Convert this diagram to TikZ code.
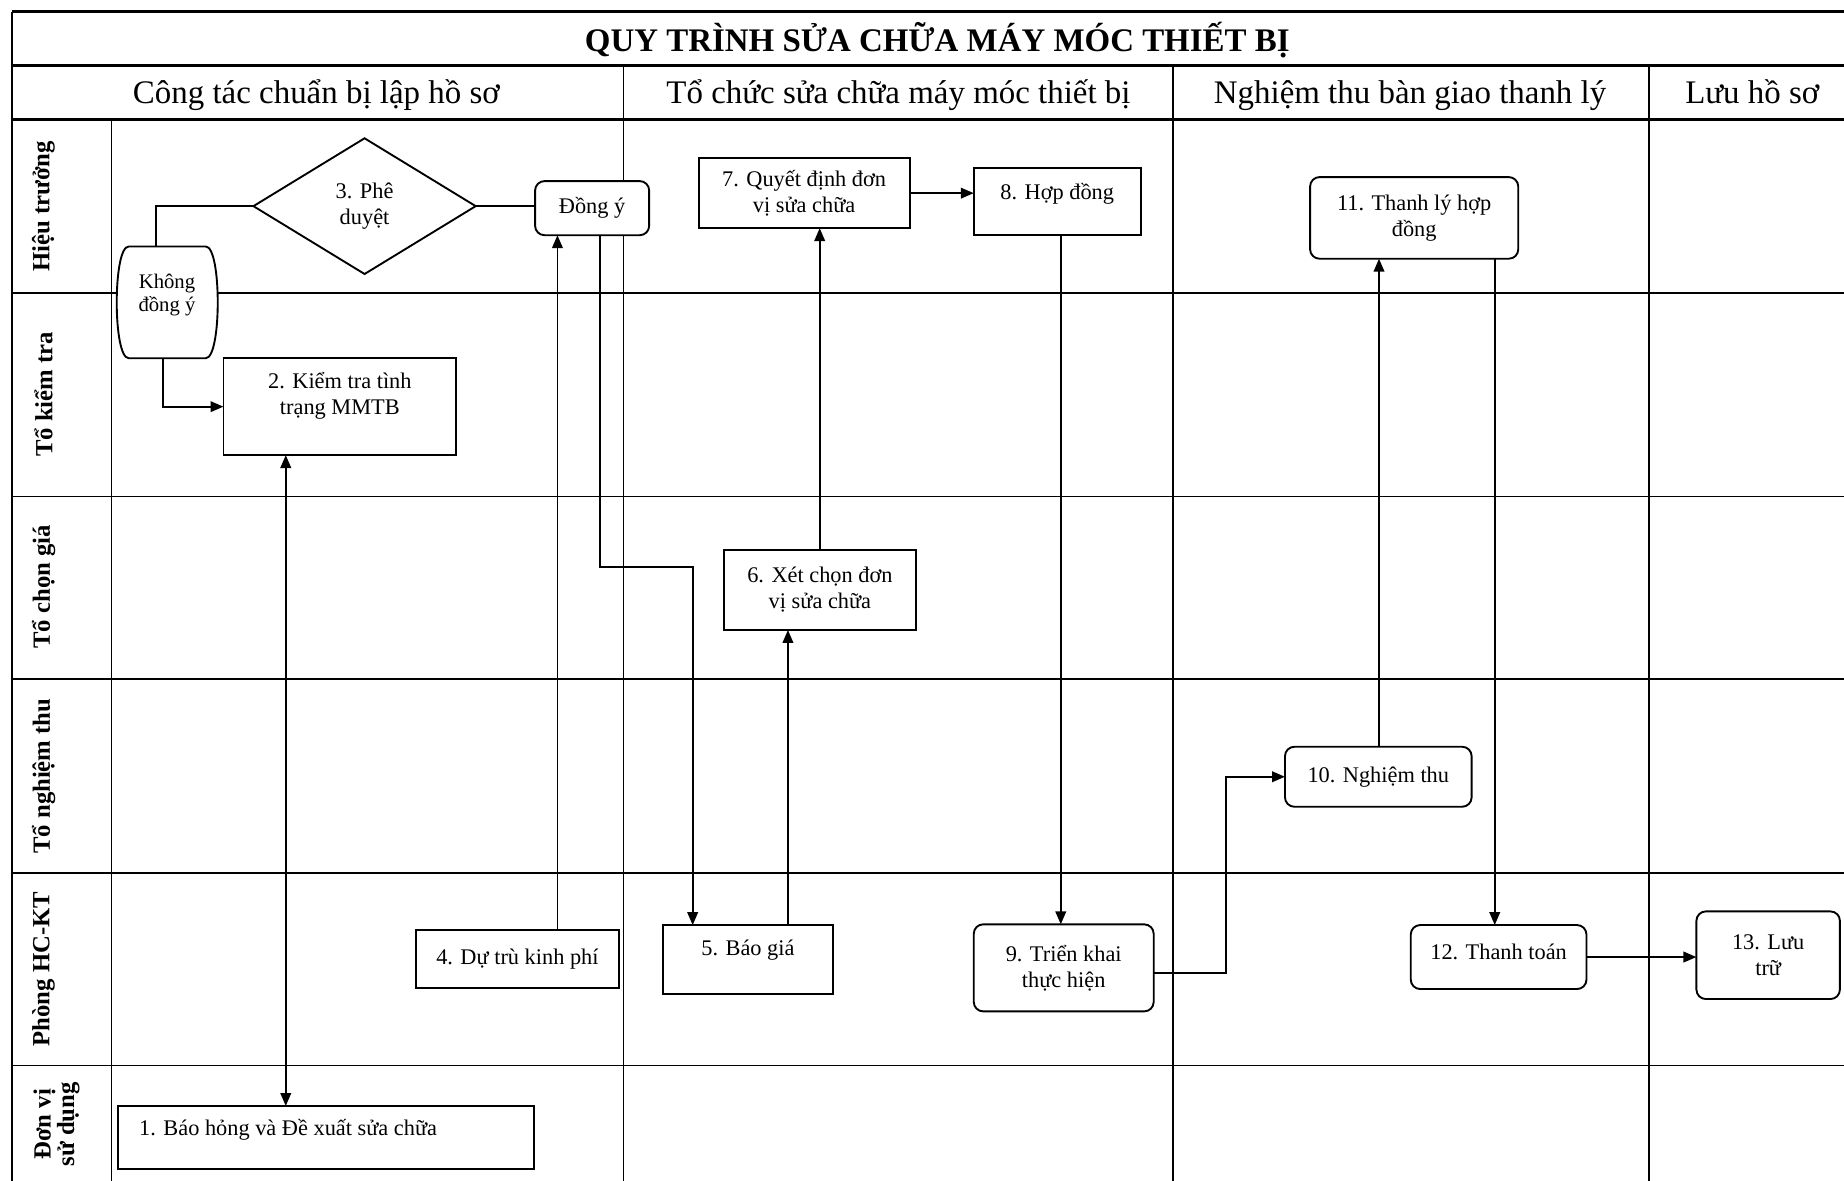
\documentclass[tikz,border=0pt]{standalone}
\usepackage{fontspec}
\setmainfont{Liberation Serif}
\usetikzlibrary{shapes.geometric,arrows.meta,calc}
\begin{document}
\begin{tikzpicture}[x=0.5pt,y=-0.5pt,
  gridline/.style={line width=0.65pt},
  gridthick/.style={line width=1.3pt},
  box/.style={draw, fill=white, line width=0.8pt, inner sep=0pt, outer sep=0pt, align=center, font=\fontsize{9.5}{11}\selectfont},
  rbox/.style={box, rounded corners=4pt},
  conn/.style={line width=0.8pt},
  arr/.style={conn, -{Triangle[length=5.5pt,width=4.5pt]}},
  darr/.style={conn, {Triangle[length=5.5pt,width=4.5pt]}-{Triangle[length=5.5pt,width=4.5pt]}},
  lanelbl/.style={rotate=90, inner sep=0pt, align=center, font=\fontsize{10.5}{10}\selectfont\bfseries},
  head/.style={inner sep=0pt, anchor=base, font=\fontsize{14}{16}\selectfont},
  txt/.style={inner sep=0pt, align=center, font=\fontsize{9.5}{11}\selectfont}
]
\useasboundingbox (0,0) rectangle (1568,1004);

% ---------- grid ----------
\draw[gridthick] (10,10) -- (1568,10);
\draw[gridthick] (10,55.5) -- (1568,55.5);
\draw[gridthick] (10,102) -- (1568,102);
\foreach \yy in {249,422,577.5,742.5,906}
  \draw[gridline] (10,\yy) -- (1568,\yy);
\draw[gridline] (10,10) -- (10,1004);
\draw[gridline] (95,102) -- (95,1004);
\foreach \xx in {530,997.5,1402}
  \draw[gridline] (\xx,55.5) -- (\xx,1004);

% ---------- titles ----------
\node[head, font=\fontsize{14}{16}\selectfont\bfseries] (title) at (797,44) {QUY TRÌNH SỬA CHỮA MÁY MÓC THIẾT BỊ};
\node[head] (h1) at (269,88) {Công tác chuẩn bị lập hồ sơ};
\node[head] (h2) at (764,88) {Tổ chức sửa chữa máy móc thiết bị};
\node[head] (h3) at (1199,88) {Nghiệm thu bàn giao thanh lý};
\node[head] (h4) at (1490,88) {Lưu hồ sơ};

% ---------- lane labels ----------
\node[lanelbl] (l1) at (37,175.5) {Hiệu trưởng};
\node[lanelbl] (l2) at (37,335.5) {Tổ kiểm tra};
\node[lanelbl] (l3) at (37,499) {Tổ chọn giá};
\node[lanelbl] (l4) at (37,660) {Tổ nghiệm thu};
\node[lanelbl] (l5) at (37,824) {Phòng HC-KT};
\node[lanelbl] (l6) at (48,956) {Đơn vị\\sử dụng};

% ---------- connectors (drawn below boxes) ----------
\coordinate (xa) at (133,0);
\coordinate (xb) at (138.6,0);
\coordinate (x243) at (243,0);
\coordinate (x474) at (474,0);
\coordinate (b6a) at (510.5,482);
\coordinate (b6b) at (589,482);
\coordinate (x670) at (670,0);
\coordinate (x697) at (697,0);
\coordinate (x902) at (902,0);
\coordinate (b11a) at (1042.5,827.6);
\coordinate (b11b) at (1042.5,660.5);
\coordinate (x1172) at (1172.6,0);
\coordinate (x1271) at (1271,0);

% ---------- nodes ----------
\node[box, shape=diamond, aspect=1.64, minimum width=94.5pt, minimum height=57.7pt] (n3) at (310,175.3) {3. Phê\\duyệt};
\node[rbox, minimum width=48.5pt, minimum height=23pt] (ndy) at (503.5,177) {Đồng ý};

\node[inner sep=0pt, outer sep=0pt, minimum width=42.75pt, minimum height=47.5pt] (nkd) at (142.2,257.1) {};
\filldraw[fill=white, line width=0.8pt] ([xshift=5pt]nkd.north west) -- ([xshift=-5pt]nkd.north east)
  .. controls ([xshift=1.8pt]nkd.north east) and ([xshift=1.8pt]nkd.south east) .. ([xshift=-5pt]nkd.south east)
  -- ([xshift=5pt]nkd.south west)
  .. controls ([xshift=-1.8pt]nkd.south west) and ([xshift=-1.8pt]nkd.north west) .. cycle;
\node[txt, font=\fontsize{8.8}{10}\selectfont] (nkdt) at (142,251) {Không\\đồng ý};

\node[box, minimum width=99pt, minimum height=41.2pt] (n2) at (289,345.8) {};
\node[txt] (n2t) at (289,336.4) {2. Kiểm tra tình\\trạng MMTB};

\node[box, minimum width=177pt, minimum height=26.75pt] (n1) at (277,967.2) {};
\node[txt, anchor=west] (n1t) at (118,961) {1. Báo hỏng và Đề xuất sửa chữa};

\node[box, minimum width=86pt, minimum height=24.5pt] (n4) at (440,815.5) {4. Dự trù kinh phí};

\node[box, minimum width=72pt, minimum height=29.35pt] (n5) at (636,816) {};
\node[txt] (n5t) at (636,808) {5. Báo giá};

\node[box, minimum width=81.8pt, minimum height=34pt] (n6) at (697.2,501.7) {6. Xét chọn đơn\\vị sửa chữa};
\node[box, minimum width=89.8pt, minimum height=29.75pt] (n7) at (683.8,164.25) {7. Quyết định đơn\\vị sửa chữa};

\node[box, minimum width=71pt, minimum height=28.5pt] (n8) at (899,171.5) {};
\node[txt] (n8t) at (899,164.4) {8. Hợp đồng};

\node[rbox, minimum width=76.5pt, minimum height=37pt] (n9) at (904.5,823) {9. Triển khai\\thực hiện};
\node[rbox, minimum width=79.35pt, minimum height=25.5pt] (n10) at (1172,660.5) {10. Nghiệm thu};
\node[rbox, minimum width=88.5pt, minimum height=34.7pt] (n11) at (1202.5,185.3) {11. Thanh lý hợp\\đồng};
\node[rbox, minimum width=74.7pt, minimum height=27.2pt] (n12) at (1274.3,813.8) {};
\node[txt] (n12t) at (1274.3,809.3) {12. Thanh toán};
\node[rbox, minimum width=61pt, minimum height=37.25pt] (n13) at (1503.5,812.25) {13. Lưu\\trữ};

% ---------- connectors ----------
\draw[conn] (n3.west) -| (nkd.north -| xa);
\draw[arr] (nkd.south -| xb) |- (n2.west);
\draw[conn] (n3.east) -- (n3.east -| ndy.west);
\draw[darr] (n1.north -| x243) -- (n2.south -| x243);
\draw[arr] (n4.north -| x474) -- (ndy.south -| x474);
\draw[arr] (ndy.south -| b6a) -- (b6a) -- (b6b) -- (n5.north -| b6b);
\draw[arr] (n5.north -| x670) -- (n6.south -| x670);
\draw[arr] (n6.north -| x697) -- (n7.south -| x697);
\draw[arr] (n7.east) -- (n7.east -| n8.west);
\draw[arr] (n8.south -| x902) -- (n9.north -| x902);
\draw[arr] (n9.east |- b11a) -- (b11a) -- (b11b) -- (n10.west);
\draw[arr] (n10.north -| x1172) -- (n11.south -| x1172);
\draw[arr] (n11.south -| x1271) -- (n12.north -| x1271);
\draw[arr] (n12.east) -- (n12.east -| n13.west);
\end{tikzpicture}
\end{document}
